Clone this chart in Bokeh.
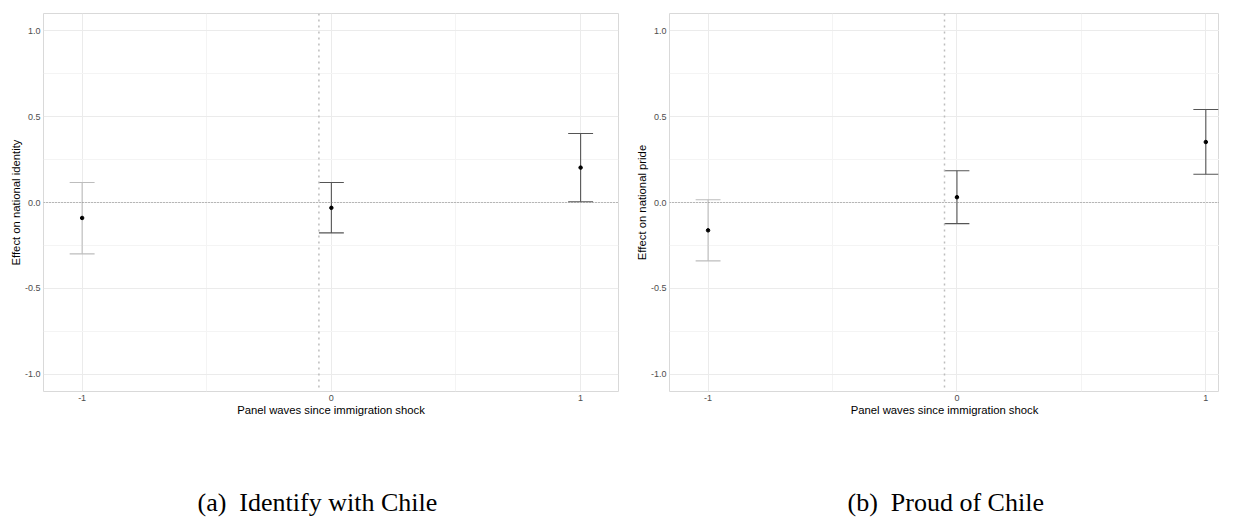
import numpy as np
from bokeh.plotting import figure
from bokeh.layouts import row
from bokeh.models import FixedTicker, PrintfTickFormatter, Span, Title, Range1d
from bokeh.embed import file_html
from bokeh.resources import INLINE

# ---------------- data ----------------
waves = [-1, 0, 1]
x_tick_labels = ["-1", "0", "1"]

identity_est = [-0.090, -0.031, 0.203]
identity_lo = [-0.299, -0.177, 0.004]
identity_hi = [0.116, 0.116, 0.402]

pride_est = [-0.162, 0.031, 0.352]
pride_lo = [-0.340, -0.123, 0.164]
pride_hi = [0.016, 0.185, 0.541]

bar_colors = ["#bdbdbd", "#555555", "#555555"]

y_ticks = [-1.0, -0.5, 0.0, 0.5, 1.0]
y_minor = [-0.75, -0.25, 0.25, 0.75]
x_ticks = [-1, 0, 1]
x_minor = [-0.5, 0.5]

shock_x = -0.05
ref_y = 0.0

SANS = "Liberation Sans"
SERIF = "Liberation Serif"


def make_panel(ylabel, est, lo, hi, caption, frame_width, x_end,
               mb_left, mb_right, cap_offset):
    p = figure(frame_width=frame_width, frame_height=378,
               x_range=Range1d(-1.155, x_end), y_range=Range1d(-1.1, 1.1),
               output_backend="svg", toolbar_location=None,
               min_border_left=mb_left, min_border_right=mb_right,
               min_border_top=13, min_border_bottom=0,
               background_fill_color="white", border_fill_color="white")
    p.outline_line_color = "#d9d9d9"
    p.outline_line_width = 1

    xt = FixedTicker(ticks=x_ticks, minor_ticks=x_minor)
    yt = FixedTicker(ticks=y_ticks, minor_ticks=y_minor)
    p.xaxis.ticker = xt
    p.yaxis.ticker = yt
    p.xgrid.ticker = xt
    p.ygrid.ticker = yt
    p.xaxis.major_label_overrides = {t: l for t, l in zip(x_ticks, x_tick_labels)}
    p.yaxis.formatter = PrintfTickFormatter(format="%.1f")

    for ax in (p.xaxis[0], p.yaxis[0]):
        ax.axis_line_color = None
        ax.major_tick_line_color = None
        ax.minor_tick_line_color = None
        ax.major_tick_out = 0
        ax.minor_tick_out = 0
        ax.major_label_text_font = SANS
        ax.major_label_text_font_size = "9px"
        ax.major_label_text_color = "#4d4d4d"
        ax.major_label_standoff = 3
        ax.axis_label_text_font = SANS
        ax.axis_label_text_font_size = "11.3px"
        ax.axis_label_text_font_style = "normal"
        ax.axis_label_text_color = "black"
    p.xaxis.axis_label_standoff = 0
    p.yaxis.axis_label_standoff = 0
    p.xaxis.axis_label = "Panel waves since immigration shock"
    p.yaxis.axis_label = ylabel

    for g in (p.xgrid[0], p.ygrid[0]):
        g.grid_line_color = "#ebebeb"
        g.grid_line_width = 1
        g.minor_grid_line_color = "#f4f4f4"
        g.minor_grid_line_width = 1

    p.add_layout(Span(location=ref_y, dimension="width", line_color="#808080",
                      line_width=1, line_dash="1 2"))
    p.add_layout(Span(location=shock_x, dimension="height", line_color="#bdbdbd",
                      line_width=1.5, line_dash="2 4"))

    x = np.array(waves, dtype=float)
    lo = np.array(lo)
    hi = np.array(hi)
    cap = 0.05
    p.segment(x0=x, y0=lo, x1=x, y1=hi, line_color=bar_colors, line_width=1.1)
    p.segment(x0=x - cap, y0=hi, x1=x + cap, y1=hi, line_color=bar_colors, line_width=1.1)
    p.segment(x0=x - cap, y0=lo, x1=x + cap, y1=lo, line_color=bar_colors, line_width=1.1)
    p.scatter(x=x, y=est, size=3.5, color="black")

    p.add_layout(Title(text=caption, align="left", text_font=SERIF,
                       text_font_size="26px", text_font_style="normal",
                       text_color="black", standoff=134, offset=cap_offset), "below")
    return p


p1 = make_panel("Effect on national identity", identity_est, identity_lo, identity_hi,
                "(a)\u00a0\u00a0Identify with Chile", 575, 1.152, 43, 13, 154)
p2 = make_panel("Effect on national pride", pride_est, pride_lo, pride_hi,
                "(b)\u00a0\u00a0Proud of Chile", 550, 1.055, 38, 0, 178)

layout = row(p1, p2, spacing=0)
open("out.html", "w").write(file_html(layout, INLINE))
